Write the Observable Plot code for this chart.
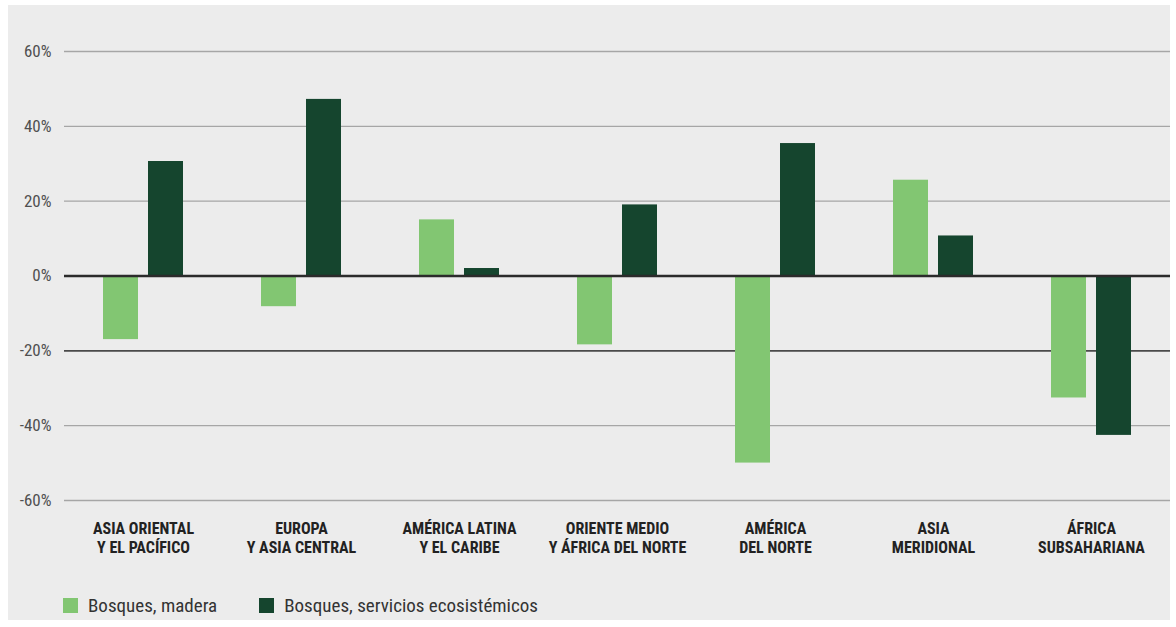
<!DOCTYPE html>
<html>
<head>
<meta charset="utf-8">
<script src="https://cdn.jsdelivr.net/npm/d3@7"></script>
<script src="https://cdn.jsdelivr.net/npm/@observablehq/plot@0.6"></script>
<style>
  html, body { margin: 0; padding: 0; background: #ffffff; }
  body { width: 1176px; height: 627px; position: relative; overflow: hidden;
         font-family: "Liberation Sans Narrow", "Roboto Condensed", "DejaVu Sans Condensed", sans-serif; }
  #panel { position: absolute; left: 8px; top: 5px; width: 1162px; height: 615px; background: #ececec; }
  #chart { position: absolute; left: 0; top: 0; }
  #legend { position: absolute; left: 63px; top: 594px; display: flex; align-items: center;
            font-size: 19px; color: #333; }
  .item { display: flex; align-items: center; margin-right: 42px; }
  .sw { width: 15px; height: 15px; margin-right: 10px; }
</style>
</head>
<body>
<div id="panel"></div>
<div id="chart"></div>
<div id="legend"></div>
<script>
const regions = [
  "ASIA ORIENTAL\nY EL PACÍFICO",
  "EUROPA\nY ASIA CENTRAL",
  "AMÉRICA LATINA\nY EL CARIBE",
  "ORIENTE MEDIO\nY ÁFRICA DEL NORTE",
  "AMÉRICA\nDEL NORTE",
  "ASIA\nMERIDIONAL",
  "ÁFRICA\nSUBSAHARIANA"
];
const series = ["Bosques, madera", "Bosques, servicios ecosistémicos"];
const madera = [-17, -8.2, 15, -18.4, -50, 25.6, -32.6];
const servicios = [30.6, 47.2, 2, 19, 35.4, 10.7, -42.6];
const yTicks = [-60, -40, -20, 0, 20, 40, 60];
const colors = ["#82c672", "#15452e"];

const rows = regions.flatMap((r, i) => [
  {region: r, series: series[0], value: madera[i]},
  {region: r, series: series[1], value: servicios[i]}
]);

const font = '"Liberation Sans Narrow", "Roboto Condensed", "DejaVu Sans Condensed", sans-serif';

const chart = Plot.plot({
  width: 1176,
  height: 570,
  marginLeft: 63,
  marginRight: 6,
  marginTop: 51,
  marginBottom: 70,
  style: {background: "transparent", fontFamily: font},
  fx: {domain: regions, padding: 0, axis: null},
  x: {domain: series, paddingInner: 0.22, paddingOuter: 0.846, axis: null},
  y: {domain: [-60, 60], axis: null},
  color: {domain: series, range: colors},
  marks: [
    Plot.ruleY(yTicks.filter(d => d !== 0 && d !== -20), {stroke: "#a6a6a6", strokeWidth: 1.3}),
    Plot.ruleY([-20], {stroke: "#4a4a4a", strokeWidth: 1.6}),
    Plot.barY(rows, {fx: "region", x: "series", y: "value", fill: "series"}),
    Plot.ruleY([0], {stroke: "#2b2b2b", strokeWidth: 2.4}),
    Plot.axisY({ticks: yTicks, tickFormat: d => d + "%", tickSize: 0, tickPadding: 13,
                fontSize: 17, fill: "#505050", label: null}),
    Plot.axisFx({anchor: "bottom", tickSize: 0, tickPadding: 20, fontSize: 16, fontWeight: "bold",
                 fill: "#222", label: null, lineHeight: 1.2})
  ]
});
document.getElementById("chart").appendChild(chart);

const legend = document.getElementById("legend");
series.forEach((s, i) => {
  const item = document.createElement("div");
  item.className = "item";
  const sw = document.createElement("div");
  sw.className = "sw";
  sw.style.background = colors[i];
  const t = document.createElement("span");
  t.textContent = s;
  item.appendChild(sw);
  item.appendChild(t);
  legend.appendChild(item);
});
</script>
</body>
</html>
